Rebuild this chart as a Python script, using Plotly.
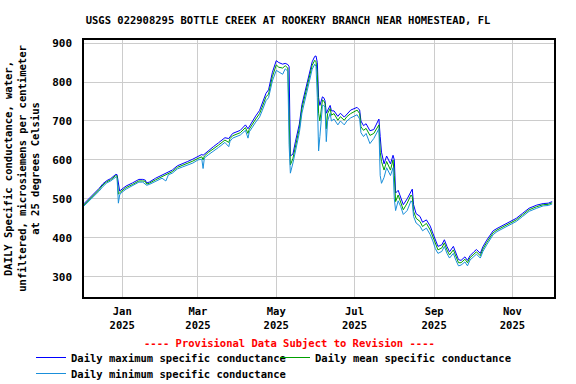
import plotly.graph_objects as go

dates = [
 "2024-12-02","2024-12-06","2024-12-10","2024-12-14","2024-12-17","2024-12-20","2024-12-23","2024-12-25",
 "2024-12-27","2024-12-28","2024-12-29","2024-12-30","2024-12-31","2025-01-04","2025-01-09","2025-01-14",
 "2025-01-17","2025-01-19","2025-01-20","2025-01-22","2025-01-27","2025-02-01","2025-02-04","2025-02-06",
 "2025-02-09","2025-02-13","2025-02-17","2025-02-21","2025-02-25","2025-03-01","2025-03-04","2025-03-05",
 "2025-03-06","2025-03-09","2025-03-13","2025-03-17","2025-03-22","2025-03-25","2025-03-26","2025-03-28",
 "2025-04-03","2025-04-07","2025-04-09","2025-04-10","2025-04-15","2025-04-18","2025-04-20","2025-04-23",
 "2025-04-25","2025-04-28","2025-05-01","2025-05-03","2025-05-06","2025-05-08","2025-05-10","2025-05-11",
 "2025-05-12","2025-05-14","2025-05-16","2025-05-19","2025-05-21","2025-05-24","2025-05-27","2025-05-29",
 "2025-05-31","2025-06-01","2025-06-02","2025-06-03","2025-06-04","2025-06-06","2025-06-07","2025-06-08",
 "2025-06-09","2025-06-10","2025-06-12","2025-06-13","2025-06-15","2025-06-18","2025-06-20","2025-06-23",
 "2025-06-25","2025-06-28","2025-07-03","2025-07-05","2025-07-06","2025-07-08","2025-07-10","2025-07-13",
 "2025-07-16","2025-07-19","2025-07-20","2025-07-21","2025-07-22","2025-07-24","2025-07-26","2025-07-29",
 "2025-07-31","2025-08-01","2025-08-02","2025-08-04","2025-08-06","2025-08-08","2025-08-11","2025-08-14",
 "2025-08-15","2025-08-16","2025-08-18","2025-08-21","2025-08-23","2025-08-26","2025-08-29","2025-08-31",
 "2025-09-02","2025-09-04","2025-09-07","2025-09-09","2025-09-11","2025-09-13","2025-09-16","2025-09-18",
 "2025-09-20","2025-09-22","2025-09-25","2025-09-27","2025-09-29","2025-10-02","2025-10-04","2025-10-07",
 "2025-10-09","2025-10-12","2025-10-15","2025-10-17","2025-10-20","2025-10-25","2025-10-30","2025-11-04",
 "2025-11-09","2025-11-14","2025-11-20","2025-11-25","2025-11-29","2025-12-02",
]

mean_vals = [
 484,497,510,524,536,544,549,554,
 560,558,512,516,519,529,537,546,
 546,545,538,540,549,557,561,566,
 570,581,586,591,597,604,608,600,
 610,619,628,638,651,645,655,662,
 670,683,668,679,705,719,735,762,
 769,814,844,838,836,842,836,700,
 587,604,638,681,732,775,813,843,
 856,852,820,720,700,754,752,745,
 680,719,732,715,719,702,711,702,
 711,719,728,719,685,676,681,663,
 668,685,690,620,596,574,596,574,
 600,560,493,510,493,472,489,510,
 505,468,450,442,429,437,420,403,
 382,369,374,387,369,356,369,352,
 336,336,345,336,349,358,364,354,
 371,388,404,413,420,429,437,446,
 459,472,480,485,486,490,
]

max_vals = [
 487,500,513,527,539,547,552,558,
 563,562,540,520,523,533,541,550,
 550,548,541,543,553,561,565,570,
 574,585,590,596,602,610,614,612,
 615,624,634,644,657,655,660,668,
 676,690,680,686,713,727,744,771,
 780,825,855,850,846,848,845,840,
 610,615,648,692,742,785,824,852,
 866,867,850,760,740,762,760,752,
 720,728,740,726,726,712,720,710,
 718,728,735,728,700,688,693,675,
 678,700,705,660,620,590,610,590,
 612,600,515,522,505,485,500,522,
 525,485,462,455,440,446,430,412,
 392,378,382,395,378,364,378,362,
 344,342,351,342,354,364,370,360,
 377,394,409,418,424,433,441,450,
 463,476,484,488,489,493,
]

min_vals = [
 481,494,506,520,532,541,546,551,
 556,552,489,510,515,525,534,543,
 543,536,535,537,546,553,546,562,
 566,577,582,587,592,600,602,578,
 605,613,622,632,645,634,648,656,
 664,676,656,672,697,710,726,752,
 760,803,830,826,820,834,828,640,
 566,592,626,670,720,765,803,833,
 846,840,760,623,660,740,740,735,
 647,700,720,700,705,690,700,690,
 700,708,716,705,670,660,668,642,
 655,672,680,560,540,555,580,560,
 580,500,470,495,480,460,470,495,
 490,455,438,430,418,425,408,392,
 372,360,365,378,360,348,360,342,
 328,330,338,328,343,352,358,348,
 365,382,399,408,416,425,433,442,
 455,468,476,482,483,487,
]

tick_vals = ["2025-01-01","2025-03-01","2025-05-01","2025-07-01","2025-09-01","2025-11-01"]
tick_text = ["Jan<br>2025","Mar<br>2025","May<br>2025","Jul<br>2025","Sep<br>2025","Nov<br>2025"]

FONT = "DejaVu Sans Mono"

# plot area in pixels: x 84..554, y 40..297
PL, PR, PT, PB = 84, 554, 40, 297
PW, PH = PR - PL, PB - PT

def px(xpix):
    return (xpix - PL) / PW

def py(ypix):
    return (PB - ypix) / PH

fig = go.Figure()
fig.add_trace(go.Scatter(x=dates, y=max_vals, mode="lines", name="Daily maximum specific conductance",
                         line=dict(color="#0000FF", width=1), legend="legend"))
fig.add_trace(go.Scatter(x=dates, y=mean_vals, mode="lines", name="Daily mean specific conductance",
                         line=dict(color="#00A000", width=1), legend="legend2"))
fig.add_trace(go.Scatter(x=dates, y=min_vals, mode="lines", name="Daily minimum specific conductance",
                         line=dict(color="#1A8FDA", width=1), legend="legend3"))

legend_font = dict(family=FONT, size=10.5, color="black", weight="bold")

def leg(xpix, ypix):
    return dict(orientation="v", x=px(xpix), xanchor="left", y=py(ypix), yanchor="top",
                tracegroupgap=0, font=legend_font, itemwidth=30, bgcolor="rgba(0,0,0,0)")

fig.update_layout(
    width=576, height=384,
    margin=dict(l=PL, r=576 - PR, t=PT, b=384 - PB, autoexpand=False),
    paper_bgcolor="white", plot_bgcolor="white",
    font=dict(family=FONT, size=11, color="black", weight="bold"),
    title=dict(text="USGS 022908295 BOTTLE CREEK AT ROOKERY BRANCH NEAR HOMESTEAD, FL",
               x=0.5, xanchor="center", y=1 - 20 / 384, yanchor="middle",
               font=dict(family=FONT, size=10.5, color="black", weight="bold")),
    showlegend=True,
    legend=leg(31, 343),
    legend2=leg(275, 343),
    legend3=leg(31, 359),
    annotations=[dict(text="---- Provisional Data Subject to Revision ----",
                      xref="paper", yref="paper", x=px(289), y=py(343),
                      xanchor="center", yanchor="middle", showarrow=False,
                      font=dict(family=FONT, size=10.5, color="#FF0000", weight="bold"))],
)

fig.update_xaxes(
    type="date",
    range=["2024-12-02 05:00", "2025-12-03 10:00"],
    tickvals=tick_vals, ticktext=tick_text,
    showgrid=True, gridcolor="#CCCCCC", gridwidth=1,
    showline=True, linecolor="black", linewidth=1.5, mirror=True,
    ticks="", zeroline=False, automargin=False, ticklabelstandoff=4,
    tickfont=dict(family=FONT, size=10.5, color="black", weight="bold"),
)
fig.update_yaxes(
    range=[248, 908],
    tickvals=[300, 400, 500, 600, 700, 800, 900],
    showgrid=True, gridcolor="#CCCCCC", gridwidth=1,
    showline=True, linecolor="black", linewidth=1.5, mirror=True,
    ticks="", zeroline=False, ticklabelstandoff=8, automargin=False,
    tickfont=dict(family=FONT, size=11, color="black", weight="bold"),
    title=dict(text="DAILY Specific conductance, water,<br>unfiltered, microsiemens per centimeter<br>at 25 degrees Celsius",
               standoff=10, font=dict(family=FONT, size=10.5, color="black", weight="bold")),
)

fig.write_html("out.html", config={"displayModeBar": False},
               post_script="document.body.style.margin='0';document.body.style.padding='0';document.body.style.overflow='hidden';")
